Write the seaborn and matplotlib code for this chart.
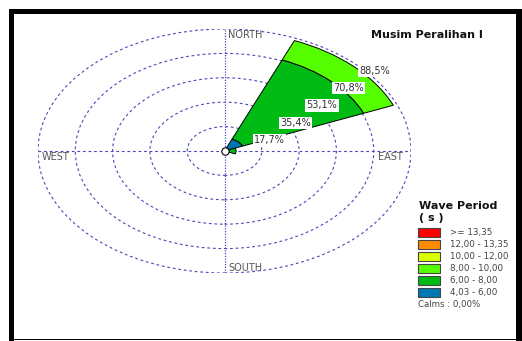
import numpy as np
import pandas as pd
import matplotlib
matplotlib.use("Agg")
import matplotlib.pyplot as plt
import seaborn as sns
from matplotlib.patches import Wedge, Ellipse, Rectangle

# wave rose data (% of occurrences), per direction and period class
directions = ["N", "NE", "E", "SE", "S", "SW", "W", "NW"]
period_classes = ["4,03 - 6,00", "6,00 - 8,00", "8,00 - 10,00",
                  "10,00 - 12,00", "12,00 - 13,35", ">= 13,35"]
p_4_6 = [0, 9.3, 1.2, 0, 0, 0, 0, 0]
p_6_8 = [0, 62.2, 4.3, 0, 0, 0, 0, 0]
p_8_10 = [0, 15.2, 0, 0, 0, 0, 0, 0]
p_10_12 = [0, 0, 0, 0, 0, 0, 0, 0]
p_12_1335 = [0, 0, 0, 0, 0, 0, 0, 0]
p_ge_1335 = [0, 0, 0, 0, 0, 0, 0, 0]
class_colors = ["#0078b4", "#00bb14", "#55ff00", "#dcff00", "#ff8c00", "#ff0000"]
ring_values = [17.7, 35.4, 53.1, 70.8, 88.5]
ring_labels = ["17,7%", "35,4%", "53,1%", "70,8%", "88,5%"]
compass = ["NORTH", "EAST", "SOUTH", "WEST"]
calms_text = "Calms : 0,00%"

df = pd.DataFrame({"direction": directions, "p1": p_4_6, "p2": p_6_8, "p3": p_8_10,
                   "p4": p_10_12, "p5": p_12_1335, "p6": p_ge_1335})
df["angle"] = np.arange(len(directions)) * 360 / len(directions)

sns.set_theme(style="white")
plt.rcParams["font.family"] = ["DejaVu Sans"]

fig = plt.figure(figsize=(5.22, 3.41), dpi=100)
ax = fig.add_axes([38 / 522, 68 / 341, 373 / 522, 244 / 341])
rmax = ring_values[-1]
ax.set_xlim(-rmax, rmax)
ax.set_ylim(-rmax, rmax)
ax.axis("off")

grid_c = "#4848b8"
for r in ring_values:
    ax.add_patch(Ellipse((0, 0), 2 * r, 2 * r, fill=False, ec=grid_c, lw=0.8,
                         ls=(0, (2.5, 2.5)), zorder=1))
ax.plot([0, 0], [-rmax, rmax], color=grid_c, lw=0.9, ls=(0, (1, 1.2)), zorder=1)
ax.plot([-rmax, rmax], [0, 0], color=grid_c, lw=0.8, ls=(0, (2.5, 2.5)), zorder=1)

# stacked sectors
half = 360 / len(directions) / 2
for _, row in df.iterrows():
    cum = 0
    for k, col in enumerate(["p1", "p2", "p3", "p4", "p5", "p6"]):
        v = row[col]
        if v <= 0:
            continue
        th1 = 90 - row["angle"] - half
        th2 = 90 - row["angle"] + half
        ax.add_patch(Wedge((0, 0), cum + v, th1, th2, width=v, fc=class_colors[k],
                           ec="black", lw=0.7, zorder=3))
        cum += v

sns.scatterplot(x=[0], y=[0], s=28, color="white", edgecolor="black",
                linewidth=0.8, ax=ax, zorder=6)

# ring labels
for r, lab in zip(ring_values, ring_labels):
    ax.text(r * np.cos(np.pi / 4) + 8.7, r * np.sin(np.pi / 4) - 4.5, lab,
            ha="center", va="center", fontsize=7, color="#333333", zorder=7,
            bbox=dict(boxstyle="square,pad=0.12", fc="white", ec="none"))

lab_c = "#555555"
ax.text(1.7, 84.1, compass[0], ha="left", va="center", fontsize=7, color=lab_c)
ax.text(72.8, -4.4, compass[1], ha="left", va="center", fontsize=7, color=lab_c)
ax.text(1.7, -84.9, compass[2], ha="left", va="center", fontsize=7, color=lab_c)
ax.text(-86.7, -4.4, compass[3], ha="left", va="center", fontsize=7, color=lab_c)

W, H = 522, 341
fig.text(371 / W, 1 - 35.5 / H, "Musim Peralihan I", ha="left", va="center",
         fontsize=8, fontweight="bold", color="#111111")

# legend
fig.text(419 / W, 1 - 205.7 / H, "Wave Period", ha="left", va="center",
         fontsize=8, fontweight="bold", color="#111111")
fig.text(419 / W, 1 - 218 / H, "( s )", ha="left", va="center",
         fontsize=8, fontweight="bold", color="#111111")
for i, k in enumerate(range(len(period_classes) - 1, -1, -1)):
    yc = 232.3 + 12.1 * i
    fig.add_artist(Rectangle((418 / W, 1 - (yc + 4.5) / H), 22 / W, 9 / H,
                             transform=fig.transFigure, fc=class_colors[k],
                             ec="#444444", lw=0.8))
    fig.text(450 / W, 1 - yc / H, period_classes[k], ha="left", va="center",
             fontsize=6.3, color="#444444")
fig.text(418 / W, 1 - 305 / H, calms_text, ha="left", va="center",
         fontsize=6.2, color="#444444")

# frame
for x0, y0, w, h in [(9, 9, 507, 5), (9, 9, 5, 332), (515.5, 9, 6.5, 332),
                     (14, 338.5, 502, 1.2)]:
    fig.add_artist(Rectangle((x0 / W, 1 - (y0 + h) / H), w / W, h / H,
                             transform=fig.transFigure, fc="black", ec="none"))

fig.savefig("out.png", dpi=100)
